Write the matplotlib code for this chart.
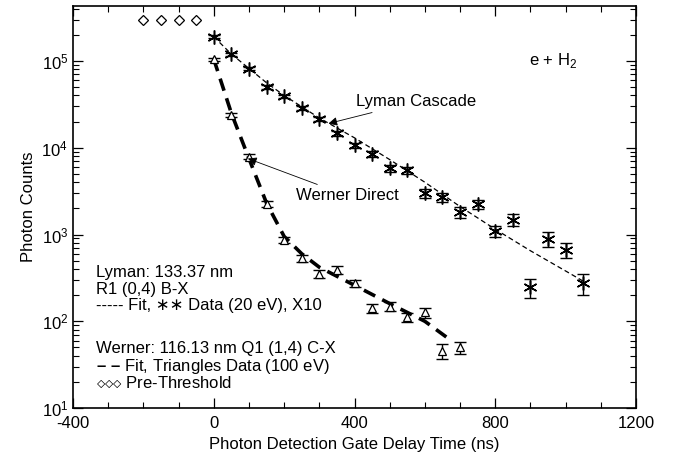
import numpy as np
import matplotlib.pyplot as plt
from matplotlib.ticker import MultipleLocator, LogLocator, NullFormatter

#------------------------------------------------------------------------------
# Dados.
lyman_t = [0, 50, 100, 150, 200, 250, 300, 350, 400, 450, 500, 550, 600, 650,
           700, 750, 800, 850, 900, 950, 1000, 1050]
lyman_y = [1.89e5, 1.2e5, 8.1e4, 5.0e4, 3.9e4, 2.9e4, 2.15e4, 1.46e4, 1.07e4,
           8.5e3, 5.8e3, 5.5e3, 3.0e3, 2.7e3, 1.8e3, 2.25e3, 1.1e3, 1.48e3,
           248, 890, 665, 276]
lyman_err = [0.04, 0.04, 0.04, 0.05, 0.05, 0.05, 0.06, 0.07, 0.07, 0.08, 0.1,
             0.1, 0.12, 0.12, 0.14, 0.12, 0.15, 0.15, 0.25, 0.2, 0.2, 0.27]

werner_t = [0, 50, 100, 150, 200, 250, 300, 350, 400, 450, 500, 550, 600,
            650, 700]
werner_y = [1.05e5, 2.4e4, 7.9e3, 2.25e3, 870, 530, 355, 390, 275, 142, 148,
            112, 127, 46, 50]
werner_err = [0.04, 0.06, 0.06, 0.08, 0.08, 0.1, 0.1, 0.1, 0.1, 0.12, 0.12,
              0.12, 0.13, 0.2, 0.17]

pre_t = [-200, -150, -100, -50]
pre_y = [2.94e5, 2.94e5, 2.94e5, 2.94e5]

lyman_fit_t = [0, 50, 100, 150, 200, 300, 400, 500, 600, 700, 800, 900, 1000,
               1050]
lyman_fit_y = [1.9e5, 1.2e5, 8.2e4, 5.6e4, 4.0e4, 2.2e4, 1.3e4, 7.3e3, 4.0e3,
               2.1e3, 1.15e3, 650, 380, 290]

werner_fit_t = [0, 50, 100, 150, 200, 250, 300, 400, 500, 600, 670]
werner_fit_y = [1.05e5, 2.5e4, 7.5e3, 2.3e3, 950, 600, 420, 260, 160, 100, 62]

legenda = ['Lyman: 133.37 nm',
           'R1 (0,4) B-X',
           '----- Fit, \u2217\u2217 Data (20 eV), X10',
           'Werner: 116.13 nm Q1 (1,4) C-X',
           '$\\mathbf{\u2013\\ \u2013}$ Fit, Triangles Data (100 eV)',
           r'${\diamond}{\diamond}{\diamond}$ Pre-Threshold']
legenda_y = [0.338, 0.296, 0.254, 0.147, 0.104, 0.062]

#------------------------------------------------------------------------------
plt.rcParams['font.family'] = ['Liberation Sans', 'DejaVu Sans']
plt.rcParams['mathtext.fontset'] = 'custom'
plt.rcParams['mathtext.rm'] = 'Liberation Sans'
plt.rcParams['mathtext.bf'] = 'Liberation Sans:bold'
plt.rcParams['axes.unicode_minus'] = False

fig = plt.figure(figsize=(6.73, 4.57), dpi=100)
ax = fig.add_axes([0.1085, 0.107, 0.8365, 0.88])

# Ajustes
ax.plot(lyman_fit_t, lyman_fit_y, color='k', lw=0.9, ls=(0, (4, 2.5)))
ax.plot(werner_fit_t, werner_fit_y, color='k', lw=2.6, ls=(0, (3.5, 2.2)))

# Dados
ly = np.array(lyman_y)
ax.errorbar(lyman_t, ly, yerr=ly * np.array(lyman_err), fmt='none',
            ecolor='k', elinewidth=1.0, capsize=4.5, capthick=1.0)
ax.plot(lyman_t, ly, ls='none', marker=(6, 2, 0), ms=10, mec='k', mew=1.1)

wy = np.array(werner_y)
ax.errorbar(werner_t, wy, yerr=wy * np.array(werner_err), fmt='none',
            ecolor='k', elinewidth=1.0, capsize=4.5, capthick=1.0)
ax.plot(werner_t, wy, ls='none', marker='^', ms=6, mfc='white', mec='k',
        mew=0.9)

ax.plot(pre_t, pre_y, ls='none', marker='D', ms=5, mfc='white', mec='k',
        mew=0.9)

ax.set_yscale('log')
ax.set_xlim(-400, 1200)
ax.set_ylim(10, 4.3e5)
ax.xaxis.set_major_locator(MultipleLocator(400))
ax.xaxis.set_minor_locator(MultipleLocator(100))
ax.yaxis.set_minor_locator(LogLocator(base=10, subs=np.arange(2, 10)))
ax.yaxis.set_minor_formatter(NullFormatter())
ax.tick_params(which='both', direction='in', top=True, right=True,
               labelsize=12)
ax.tick_params(axis='x', pad=6)
ax.tick_params(which='major', length=7, width=0.9)
ax.tick_params(which='minor', length=4, width=0.8)
for s in ax.spines.values():
    s.set_linewidth(1.2)

ax.set_xlabel('Photon Detection Gate Delay Time (ns)', fontsize=12)
ax.set_ylabel('Photon Counts', fontsize=12)

ax.text(895, 1.0e5, 'e + H$_2$', fontsize=12, va='center')

ax.annotate('Lyman Cascade', xy=(326, 1.9e4), xytext=(403, 3.4e4),
            fontsize=12, va='center',
            arrowprops=dict(arrowstyle='-|>', color='k', lw=0.6,
                            mutation_scale=13, shrinkA=2, shrinkB=0))
ax.annotate('Werner Direct', xy=(97, 7.5e3), xytext=(234, 2.8e3),
            fontsize=12, va='center',
            arrowprops=dict(arrowstyle='-|>', color='k', lw=0.6,
                            mutation_scale=13, shrinkA=2, shrinkB=0))

for txt, yy in zip(legenda, legenda_y):
    ax.text(0.041, yy, txt, transform=ax.transAxes, fontsize=12,
            va='center')

fig.savefig('out.png', dpi=100)
